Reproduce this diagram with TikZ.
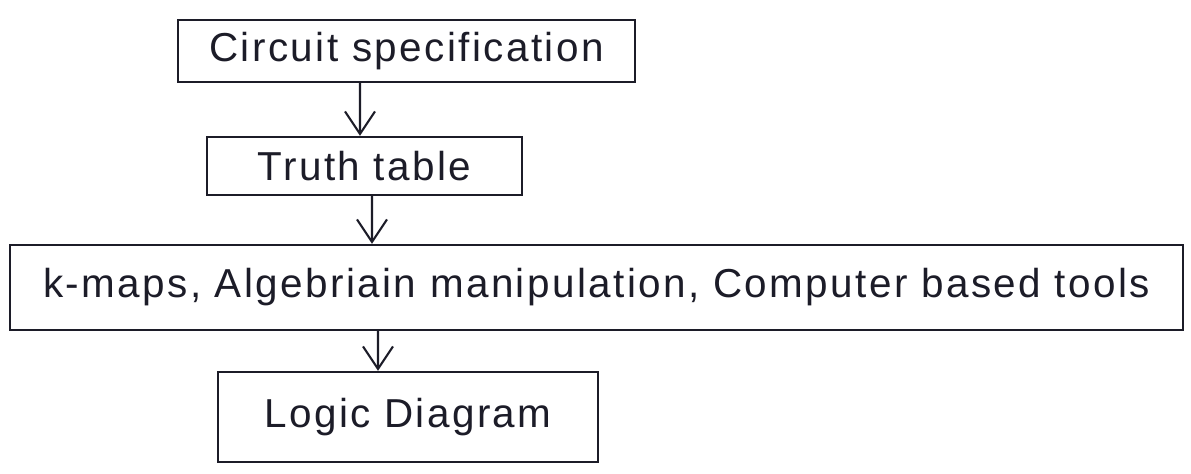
\documentclass[tikz,border=0pt]{standalone}
\usepackage{fontspec}
\setmainfont{Liberation Sans}
\usepackage{tikz}
\usetikzlibrary{arrows.meta}
\definecolor{Ink}{RGB}{28,28,40}
\tikzset{%
  stage/.style={%
    draw=Ink, line width=1.3pt, text=Ink,
    font=\fontsize{23}{27}\selectfont\addfontfeature{LetterSpace=6},
    inner sep=0pt, text centered
  },
  arrow/.style={draw=Ink, line width=1.2pt,
    -{Straight Barb[length=4.5mm,width=6mm,line width=1.2pt]}},
}

\begin{document}
\begin{tikzpicture}
        \useasboundingbox[fill=white] (0,0) rectangle (23.82,9.46);
        % the four design stages
        \node (SPEC)[stage, minimum width=9.14cm, minimum height=1.24cm] at (8.13,8.44)
            {Circuit specification};
        \node (TRUTH)[stage, minimum width=6.3cm, minimum height=1.16cm] at (7.29,6.14)
            {Truth table};
        \node (MIN)[stage, minimum width=23.46cm, minimum height=1.7cm] at (11.93,3.71)
            {k-maps, Algebriain manipulation, Computer based tools};
        \node (LOGIC)[stage, minimum width=7.6cm, minimum height=1.8cm] at (8.16,1.12)
            {Logic Diagram};

        \draw[arrow] ([xshift=-0.93cm]SPEC.south) -- ([xshift=-0.09cm]TRUTH.north);
        \draw[arrow] ([xshift=0.15cm]TRUTH.south) -- ([xshift=-4.49cm]MIN.north);
        \draw[arrow] ([xshift=-4.37cm]MIN.south) -- ([xshift=-0.6cm]LOGIC.north);
    \end{tikzpicture}
\end{document}
